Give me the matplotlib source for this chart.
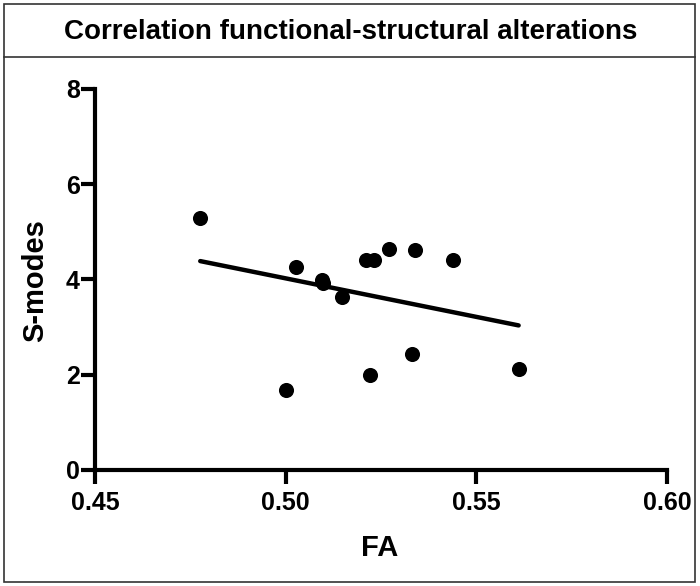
import numpy as np
import matplotlib
matplotlib.use("Agg")
import matplotlib.pyplot as plt
from matplotlib.patches import Rectangle
from matplotlib.lines import Line2D

# values
fa = [0.4776, 0.5026, 0.5095, 0.5097, 0.5148, 0.5212, 0.5232,
      0.5271, 0.5339, 0.5439, 0.5000, 0.5221, 0.5332, 0.5611]
smodes = [5.29, 4.26, 3.99, 3.92, 3.64, 4.41, 4.41,
          4.63, 4.61, 4.41, 1.68, 2.00, 2.44, 2.11]
xticks = [0.45, 0.50, 0.55, 0.60]
yticks = [0, 2, 4, 6, 8]
title = "Correlation functional-structural alterations"

plt.rcParams['font.family'] = ['Liberation Sans', 'DejaVu Sans']

fig = plt.figure(figsize=(7, 5.86), dpi=100)
ax = fig.add_axes([0.1357, 0.198, 0.8171, 0.6502])

ax.scatter(fa, smodes, s=118, color='black', zorder=3, linewidths=0)

# linear fit
k, b = np.polyfit(fa, smodes, 1)
xf = np.array([min(fa), max(fa)])
ax.plot(xf, k * xf + b, color='black', lw=3.2, solid_capstyle='round')

ax.set_xlim(0.45, 0.60)
ax.set_ylim(0, 8)
ax.set_xticks(xticks)
ax.set_yticks(yticks)
ax.set_xticklabels(["%.2f" % v for v in xticks], fontsize=18, fontweight='bold')
ax.set_yticklabels([str(v) for v in yticks], fontsize=18, fontweight='bold')
ax.tick_params(axis='both', width=3, length=10, direction='out')
ax.tick_params(axis='y', pad=1)
ax.tick_params(axis='x', pad=5)
for s in ['top', 'right']:
    ax.spines[s].set_visible(False)
for s in ['left', 'bottom']:
    ax.spines[s].set_linewidth(3)

fig.text(0.05, 0.522, "S-modes", rotation=90, ha='center', va='center',
         fontsize=21, fontweight='bold')
fig.text(0.543, 0.065, "FA", ha='center', va='center',
         fontsize=21, fontweight='bold')

# frame and title box
fig.patches.append(Rectangle((4 / 700, 4 / 586), 691 / 700, 578 / 586,
                             transform=fig.transFigure, fill=False,
                             edgecolor='#333333', lw=1.2))
fig.lines.append(Line2D([4 / 700, 695 / 700], [0.9027, 0.9027],
                        transform=fig.transFigure, color='#333333', lw=1.2))
fig.text(0.501, 0.945, title, ha='center', va='center',
         fontsize=20, fontweight='bold')

fig.savefig("out.png", dpi=100)
